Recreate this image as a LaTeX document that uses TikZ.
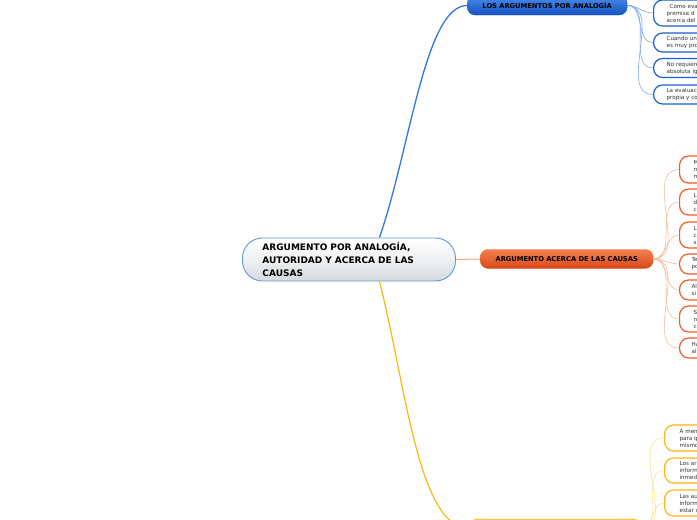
\documentclass[tikz,border=0pt]{standalone}
\usepackage{fontspec}
\setmainfont{DejaVu Sans}
\definecolor{bluedk}{HTML}{1452C0}
\definecolor{bluelt}{HTML}{4A8CEA}
\definecolor{bluebd}{HTML}{1A5FD6}
\definecolor{bluecn}{HTML}{7AA8EC}
\definecolor{bluemain}{HTML}{2F78E0}
\definecolor{ordk}{HTML}{D64818}
\definecolor{orlt}{HTML}{F5804E}
\definecolor{orbd}{HTML}{F25A24}
\definecolor{orcn}{HTML}{F8B898}
\definecolor{yedk}{HTML}{F2A800}
\definecolor{yelt}{HTML}{FFC83A}
\definecolor{yebd}{HTML}{FDB515}
\definecolor{yecn}{HTML}{FCE08A}
\definecolor{cenbd}{HTML}{5A9AD8}
\definecolor{cenbot}{HTML}{D6DADD}
\definecolor{txt}{HTML}{333333}
\begin{document}
\begin{tikzpicture}[x=1pt,y=-1pt,
  central/.style={draw=cenbd, line width=0.9pt, rounded corners=20pt,
    top color=white, bottom color=cenbot, middle color=white!60!cenbot,
    minimum height=43pt, text width=173pt, inner xsep=20pt, inner ysep=0pt,
    align=left, font=\fontsize{9}{13}\selectfont\bfseries, anchor=west},
  topic/.style={rounded corners=8pt, minimum height=19pt, inner sep=0pt,
    font=\fontsize{6.7}{8}\selectfont\bfseries, text=black, anchor=west},
  child/.style={fill=white, line width=1.2pt, rounded corners=9pt, anchor=west,
    inner xsep=13pt, inner ysep=0pt, text width=90pt, align=left, text=txt,
    font=\fontsize{5.6}{7}\selectfont},
  bchild/.style={child, draw=bluebd},
  ochild/.style={child, draw=orbd, inner xsep=14pt},
  ychild/.style={child, draw=yebd, inner xsep=15pt},
  bconn/.style={draw=bluecn, line width=0.6pt},
  oconn/.style={draw=orcn, line width=0.6pt},
  yconn/.style={draw=yecn, line width=0.6pt}
]
\useasboundingbox (0,0) rectangle (697,520);
\clip (0,0) rectangle (697,520);

% central
\node[central] (c) at (242,259.5) {ARGUMENTO POR ANALOGÍA,\\AUTORIDAD Y ACERCA DE LAS\\CAUSAS};

% topics
\node[topic, draw=bluedk, top color=bluelt, bottom color=bluedk, minimum width=160pt] (b) at (467,5.5) {LOS ARGUMENTOS POR ANALOGÍA};
\node[topic, draw=orbd, top color=orlt, bottom color=ordk, minimum width=173pt] (o) at (480,259) {ARGUMENTO ACERCA DE LAS CAUSAS};
\node[topic, draw=yebd, top color=yelt, bottom color=yedk, minimum width=172pt] (y) at (469,528.5) {};

% main connectors
\draw[draw=bluemain, line width=1.3pt] ([xshift=30.5pt]c.north) .. controls (410,150) and (425,5.5) .. (b.west);
\draw[draw=orcn!80!orbd, line width=1pt] (c.east) -- (o.west);
\draw[draw=yebd, line width=1.2pt] ([xshift=30.5pt]c.south) .. controls (405,380) and (418,528.5) .. (y.west);

% blue children
\node[bchild, minimum height=26pt] (b1) at (653,13) {\hspace*{3pt}Como eva\\premisa d\\acerca del};
\node[bchild, minimum height=19pt] (b2) at (653,42.5) {Cuando un\\es muy pro};
\node[bchild, minimum height=19pt] (b3) at (653,68) {No requiere\\absoluta ig};
\node[bchild, minimum height=19pt] (b4) at (653,94.5) {La evaluaci\\propia y co};
\foreach \n in {b1,b2,b3,b4}
  \draw[bconn] (b.east) to[out=0,in=180] (\n.west);

% orange children
\node[ochild, minimum height=27pt] (o1) at (679,169.5) {M\\m\\m};
\node[ochild, minimum height=26pt] (o2) at (679,202) {L\\d\\c};
\node[ochild, minimum height=26pt] (o3) at (679,235) {L\\c\\s};
\node[ochild, minimum height=20pt, inner xsep=12pt] (o4) at (679,264) {Te\\po};
\node[ochild, minimum height=20pt, inner xsep=12pt] (o5) at (679,290) {Al\\si};
\node[ochild, minimum height=26pt] (o6) at (679,319) {S\\n\\c};
\node[ochild, minimum height=20pt, inner xsep=12pt] (o7) at (679,348) {Ha\\al};
\foreach \n in {o1,o2,o3,o4,o5,o6,o7}
  \draw[oconn] (o.east) to[out=0,in=180] (\n.west);

% yellow children
\node[ychild, minimum height=26pt] (y1) at (664,438) {A men\\para q\\mismo};
\node[ychild, minimum height=25pt] (y2) at (664,470.5) {Los ar\\inform\\inmedi};
\node[ychild, minimum height=26pt] (y3) at (664,503) {Las au\\inform\\estar c};
\foreach \n in {y1,y2,y3}
  \draw[yconn] (y.east) to[out=0,in=180] (\n.west);
\end{tikzpicture}
\end{document}
